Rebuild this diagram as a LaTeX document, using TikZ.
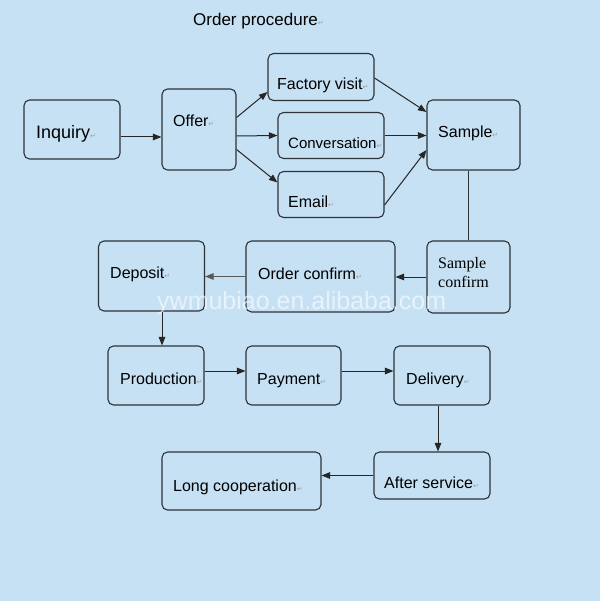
\documentclass[tikz,border=0pt]{standalone}
\usepackage{fontspec}
\setmainfont{Liberation Sans}
\newfontfamily\serifface{Liberation Serif}
\newfontfamily\symface{DejaVu Sans}
\usetikzlibrary{arrows.meta,calc}
\definecolor{bgblue}{RGB}{198,224,244}
\definecolor{edgecol}{RGB}{45,50,55}
\newcommand{\rmk}{{\symface\fontsize{7}{7}\selectfont\color{gray!75}↵}}
\begin{document}
\begin{tikzpicture}[x=1pt,y=-1pt,
  box/.style={draw=edgecol, line width=1.1pt, rounded corners=5.5pt, fill=bgblue, inner sep=0pt},
  lbl/.style={anchor=base west, inner sep=0pt, font=\fontsize{16}{16}\selectfont},
  arr/.style={draw=black!85, line width=1pt, -{Triangle[length=8.5pt,width=6.5pt]}},
  ln/.style={draw=edgecol, line width=1pt}]
\fill[bgblue] (0,0) rectangle (600,601);
\useasboundingbox (0,0) rectangle (600,601);

% title
\node[lbl, font=\fontsize{17}{17}\selectfont] (title) at (193,26) {Order procedure\rmk};

% boxes
\node[box, minimum width=96pt,  minimum height=59pt] (inq)   at (72,129.5) {};
\node[box, minimum width=74pt,  minimum height=81pt] (offer) at (199,129.5) {};
\node[box, minimum width=106pt, minimum height=47pt] (fv)    at (321,77) {};
\node[box, minimum width=106pt, minimum height=46pt] (conv)  at (331,135.5) {};
\node[box, minimum width=106pt, minimum height=46pt] (email) at (331,194.5) {};
\node[box, minimum width=93pt,  minimum height=70pt] (samp)  at (473.5,135) {};
\node[box, minimum width=83pt,  minimum height=72pt] (sc)    at (468.5,277) {};
\node[box, minimum width=149pt, minimum height=71pt] (oc)    at (320.5,276.5) {};
\node[box, minimum width=106pt, minimum height=70pt] (dep)   at (151.5,276) {};
\node[box, minimum width=96pt,  minimum height=59pt] (prod)  at (156,375.5) {};
\node[box, minimum width=95pt,  minimum height=59pt] (pay)   at (293.5,375.5) {};
\node[box, minimum width=96pt,  minimum height=59pt] (del)   at (442,375.5) {};
\node[box, minimum width=116pt, minimum height=47pt] (as)    at (432,475.5) {};
\node[box, minimum width=159pt, minimum height=58pt] (lc)    at (241.5,481) {};

% watermark
\node[anchor=base west, inner sep=0pt, font=\fontsize{25}{25}\selectfont, text=white, text opacity=0.6] (wm) at (157,309) {ywmubiao.en.alibaba.com};

% labels
\node[lbl, font=\fontsize{18}{18}\selectfont] (tinq) at (36,139) {Inquiry\rmk};
\node[lbl] (toffer) at (173,127) {Offer\rmk};
\node[lbl] (tfv)    at (277,90)  {Factory visit\rmk};
\node[lbl, font=\fontsize{15}{15}\selectfont] (tconv)  at (288,149) {Conversation\rmk};
\node[lbl] (temail) at (288,208) {Email\rmk};
\node[lbl] (tsamp)  at (438,138) {Sample\rmk};
\node[lbl, font=\fontsize{16}{16}\serifface\selectfont] (tsc1) at (438,268) {Sample};
\node[lbl, font=\fontsize{16}{16}\serifface\selectfont] (tsc2) at (438,287) {confirm};
\node[lbl] (toc)    at (258,279) {Order confirm\rmk};
\node[lbl] (tdep)   at (110,278) {Deposit\rmk};
\node[lbl] (tprod)  at (120,384) {Production\rmk};
\node[lbl] (tpay)   at (257,384) {Payment\rmk};
\node[lbl] (tdel)   at (406,384) {Delivery\rmk};
\node[lbl] (tas)    at (384,488) {After service\rmk};
\node[lbl] (tlc)    at (173,491) {Long cooperation\rmk};

% connectors
\draw[arr] ($(inq.east)+(0,7.5)$) -- ($(offer.west)+(0,7.5)$);
\draw[arr] ($(offer.east)+(0,-12)$) -- ($(fv.west)+(0,15)$);
\draw[arr] ($(offer.east)+(0,6.5)$) -- ($(conv.west)+(0,0)$);
\draw[arr] ($(offer.east)+(0,20)$) -- ($(email.west)+(0,-12)$);
\draw[arr] ($(fv.east)+(0,1)$) -- ($(samp.west)+(0,-23)$);
\draw[arr] (conv.east) -- (conv.east -| samp.west);
\draw[arr] ($(email.east)+(0,10.5)$) -- ($(samp.west)+(0,15)$);
\draw[ln] (samp.south -| sc.north) -- (sc.north);
\draw[arr] (sc.west) -- (sc.west -| oc.east);
\draw[arr, draw=black!65] (oc.west) -- (oc.west -| dep.east);
\draw[arr] ($(dep.south)+(10.5,0)$) -- ($(prod.north)+(6,0)$);
\draw[arr] ($(prod.east)+(0,-4.5)$) -- ($(pay.west)+(0,-4.5)$);
\draw[arr] ($(pay.east)+(0,-4.5)$) -- ($(del.west)+(0,-4.5)$);
\draw[arr] ($(del.south)+(-4,0)$) -- ($(as.north)+(6,0)$);
\draw[arr] (as.west) -- ($(lc.east)+(0,-5.5)$);
\end{tikzpicture}
\end{document}
